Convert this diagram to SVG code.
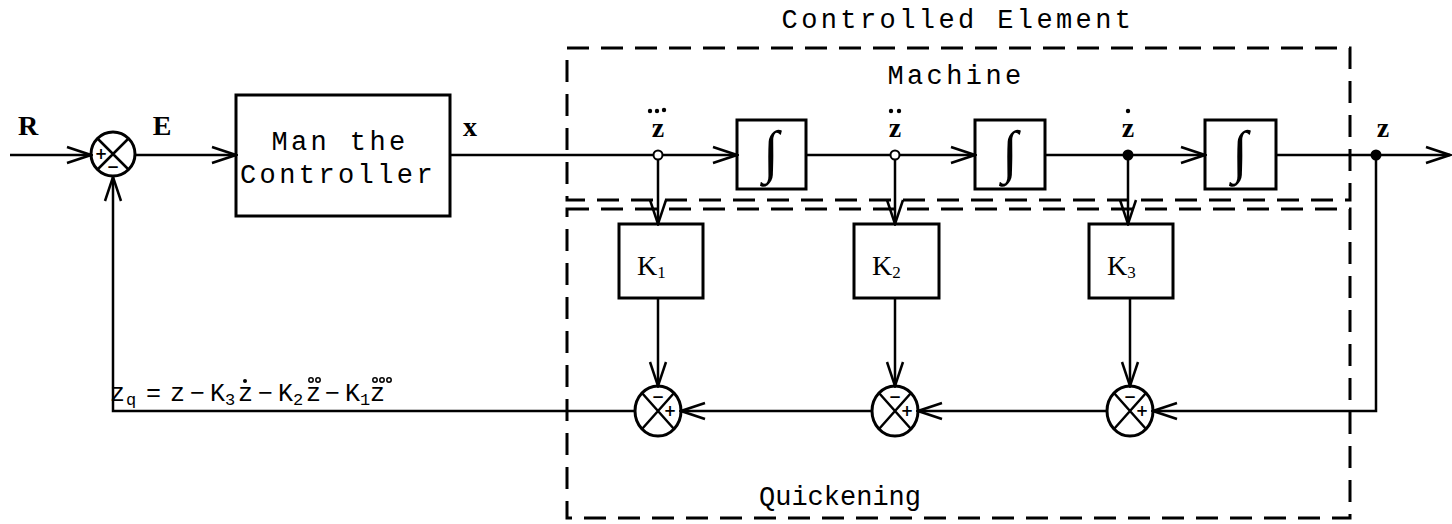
<svg xmlns="http://www.w3.org/2000/svg" width="1452" height="524" viewBox="0 0 1452 524">
<style>
.ln{stroke:#000;stroke-width:2.5;fill:none}
.box{stroke:#000;stroke-width:3;fill:none}
.dash{stroke:#000;stroke-width:3;fill:none;stroke-dasharray:22 12}
.t{font-family:"Liberation Mono",monospace;font-size:27px;letter-spacing:3.4px;fill:#000}
.lbl{font-family:"Liberation Serif",serif;font-size:28px;font-weight:bold;fill:#000}
.f{font-family:"Liberation Mono",monospace;font-size:25px;fill:#000}
.k{font-family:"Liberation Serif",serif;font-size:28px;fill:#000}
.sub{font-size:17px}
.sg{font-family:"DejaVu Sans",sans-serif;font-size:15px;font-weight:bold;fill:#000;text-anchor:middle}
.int{font-family:"Liberation Serif",serif;font-size:58px;fill:#000;text-anchor:middle}
.dot{fill:#000}
.odot{fill:none;stroke:#000;stroke-width:1.5}
</style>
<defs>
<marker id="arr" markerUnits="userSpaceOnUse" orient="auto" refX="0" refY="0" viewBox="-28 -12 30 24" markerWidth="30" markerHeight="24">
<path d="M-24,-8 L0,0 L-24,8" fill="none" stroke="#000" stroke-width="2.5"/>
</marker>
</defs>

<g id="frames">
<rect class="dash" x="567" y="48" width="783" height="152"/>
<rect class="dash" x="567" y="209" width="783" height="309"/>
<text class="t" x="958" y="28" text-anchor="middle">Controlled Element</text>
<text class="t" x="956" y="84" text-anchor="middle">Machine</text>
<text class="t" x="840" y="505" text-anchor="middle" style="letter-spacing:0">Quickening</text>
</g>

<g id="connectors">
<path class="ln" d="M10,155 H91" marker-end="url(#arr)"/>
<path class="ln" d="M136,155 H236" marker-end="url(#arr)"/>
<path class="ln" d="M450,155 H737" marker-end="url(#arr)"/>
<path class="ln" d="M806,155 H975" marker-end="url(#arr)"/>
<path class="ln" d="M1045,155 H1205" marker-end="url(#arr)"/>
<path class="ln" d="M1276,155 H1450" marker-end="url(#arr)"/>
<path class="ln" d="M658,159 V224" marker-end="url(#arr)"/>
<path class="ln" d="M895,159 V224" marker-end="url(#arr)"/>
<path class="ln" d="M1128,160 V224" marker-end="url(#arr)"/>
<path class="ln" d="M658,298 V386" marker-end="url(#arr)"/>
<path class="ln" d="M895,298 V386" marker-end="url(#arr)"/>
<path class="ln" d="M1130,298 V386" marker-end="url(#arr)"/>
<path class="ln" d="M1376,160 V411 H1153" marker-end="url(#arr)"/>
<path class="ln" d="M1107,411 H918" marker-end="url(#arr)"/>
<path class="ln" d="M872,411 H681" marker-end="url(#arr)"/>
<path class="ln" d="M635,411 H113 V177" marker-end="url(#arr)"/>
</g>

<g id="labels">
<text class="lbl" x="28" y="135" text-anchor="middle">R</text>
<text class="lbl" x="162" y="135" text-anchor="middle">E</text>
<text class="lbl" x="470" y="136" text-anchor="middle">x</text>
<text class="lbl" x="658" y="137" text-anchor="middle">z</text>
<circle class="dot" cx="650" cy="111" r="2.2"/><circle class="dot" cx="657" cy="111" r="2.2"/><circle class="dot" cx="664" cy="110" r="2.2"/>
<text class="lbl" x="895" y="137" text-anchor="middle">z</text>
<circle class="dot" cx="891" cy="111" r="2.2"/><circle class="dot" cx="899" cy="111" r="2.2"/>
<text class="lbl" x="1128" y="137" text-anchor="middle">z</text>
<circle class="dot" cx="1128" cy="111" r="2.2"/>
<text class="lbl" x="1383" y="137" text-anchor="middle">z</text>
<text class="f" y="401"><tspan x="110">z</tspan><tspan class="sub" x="126" dy="4">q</tspan><tspan x="146" dy="-4">=</tspan><tspan x="170">z</tspan><tspan x="190">−</tspan><tspan x="210">K</tspan><tspan class="sub" x="225" dy="4">3</tspan><tspan x="238" dy="-4">z</tspan><tspan x="258">−</tspan><tspan x="278">K</tspan><tspan class="sub" x="293" dy="4">2</tspan><tspan x="306" dy="-4">z</tspan><tspan x="325">−</tspan><tspan x="345">K</tspan><tspan class="sub" x="360" dy="4">1</tspan><tspan x="370" dy="-4">z</tspan></text>
<circle class="dot" cx="245" cy="381" r="2"/>
<circle class="odot" cx="311" cy="380" r="2.2"/><circle class="odot" cx="318" cy="380" r="2.2"/>
<circle class="odot" cx="375" cy="380" r="2.2"/><circle class="odot" cx="382" cy="380" r="2.2"/><circle class="odot" cx="389" cy="380" r="2.2"/>
</g>

<g id="sum-input">
<circle class="box" cx="113" cy="154" r="22"/>
<path class="ln" d="M97.5,138.5 L128.5,169.5 M128.5,138.5 L97.5,169.5"/>
<text class="sg" x="101" y="159">+</text>
<text class="sg" x="113" y="172">−</text>
</g>

<g id="controller">
<rect class="box" x="236" y="95" width="214" height="121"/>
<text class="t" x="340" y="150" text-anchor="middle">Man the</text>
<text class="t" x="338" y="183" text-anchor="middle">Controller</text>
</g>

<g id="node-z3">
<circle fill="#fff" stroke="#000" stroke-width="2" cx="658" cy="155" r="4.5"/>
</g>
<g id="node-z2">
<circle fill="#fff" stroke="#000" stroke-width="2" cx="895" cy="155" r="4.5"/>
</g>
<g id="node-z1">
<circle class="dot" cx="1128" cy="155" r="5.5"/>
</g>
<g id="node-z">
<circle class="dot" cx="1376" cy="155" r="5.5"/>
</g>

<g id="int1">
<rect class="box" x="737" y="120" width="69" height="69"/>
<text class="int" x="771" y="171">∫</text>
</g>
<g id="int2">
<rect class="box" x="975" y="120" width="70" height="69"/>
<text class="int" x="1010" y="171">∫</text>
</g>
<g id="int3">
<rect class="box" x="1205" y="120" width="71" height="69"/>
<text class="int" x="1240" y="171">∫</text>
</g>

<g id="K1">
<rect class="box" x="619" y="224" width="84" height="74"/>
<text class="k" x="637" y="275">K<tspan class="sub" dy="3">1</tspan></text>
</g>
<g id="K2">
<rect class="box" x="854" y="224" width="85" height="74"/>
<text class="k" x="872" y="275">K<tspan class="sub" dy="3">2</tspan></text>
</g>
<g id="K3">
<rect class="box" x="1089" y="224" width="84" height="74"/>
<text class="k" x="1107" y="275">K<tspan class="sub" dy="3">3</tspan></text>
</g>

<g id="sum1">
<ellipse class="box" cx="658" cy="411" rx="23" ry="25"/>
<path class="ln" d="M642,393 L674,429 M674,393 L642,429"/>
<text class="sg" x="658" y="402">−</text>
<text class="sg" x="670" y="416">+</text>
</g>
<g id="sum2">
<ellipse class="box" cx="895" cy="411" rx="23" ry="25"/>
<path class="ln" d="M879,393 L911,429 M911,393 L879,429"/>
<text class="sg" x="895" y="402">−</text>
<text class="sg" x="907" y="416">+</text>
</g>
<g id="sum3">
<ellipse class="box" cx="1130" cy="411" rx="23" ry="25"/>
<path class="ln" d="M1114,393 L1146,429 M1146,393 L1114,429"/>
<text class="sg" x="1130" y="402">−</text>
<text class="sg" x="1142" y="416">+</text>
</g>
</svg>
